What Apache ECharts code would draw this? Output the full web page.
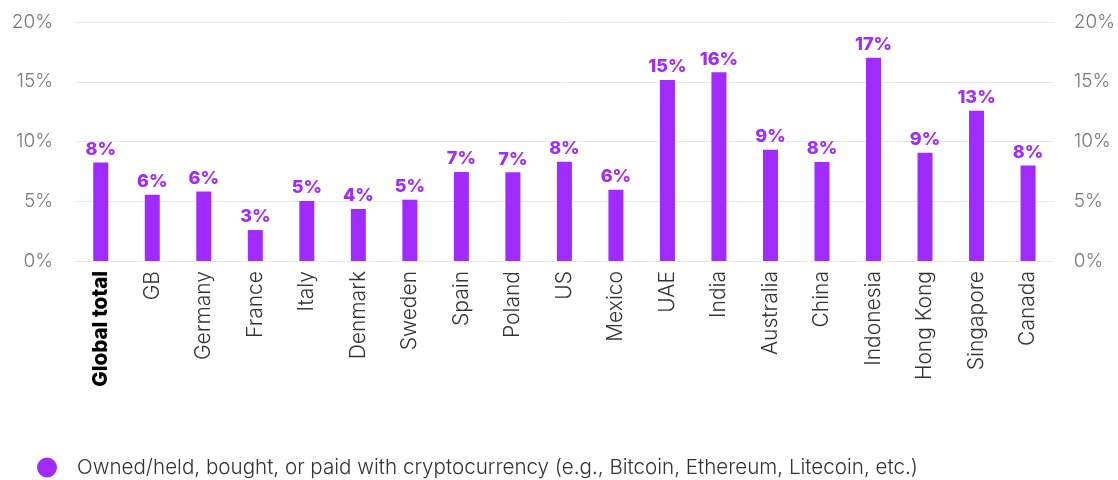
<!DOCTYPE html>
<html>
<head>
<meta charset="utf-8">
<script src="https://cdn.jsdelivr.net/npm/echarts@6/dist/echarts.min.js"></script>
<style>
  html, body { margin: 0; padding: 0; background: #fff; }
  #chart { width: 1118px; height: 480px; }
</style>
</head>
<body>
<div id="chart"></div>
<script>
// Share of respondents who used cryptocurrency, by market (%)
const categories = ['Global total', 'GB', 'Germany', 'France', 'Italy', 'Denmark', 'Sweden', 'Spain',
  'Poland', 'US', 'Mexico', 'UAE', 'India', 'Australia', 'China', 'Indonesia', 'Hong Kong', 'Singapore', 'Canada'];
const cryptoShare = [8.25, 5.55, 5.82, 2.59, 5.02, 4.35, 5.13, 7.45, 7.42, 8.31, 5.97, 15.15, 15.8, 9.31, 8.28, 17.0, 9.06, 12.58, 8.0];
const seriesName = 'Owned/held, bought, or paid with cryptocurrency (e.g., Bitcoin, Ethereum, Litecoin, etc.)';
const yMin = 0, yMax = 20, yStep = 5;

const PURPLE = '#A12BFF';
const FONT = 'Inter, "Noto Sans", sans-serif';

const valueAxis = (pos) => ({
  type: 'value',
  position: pos,
  min: yMin, max: yMax, interval: yStep,
  axisLine: { show: false },
  axisTick: { show: false },
  splitLine: { show: pos === 'left', lineStyle: { color: '#e8e8e8', width: 1 } },
  axisLabel: {
    formatter: '{value}%',
    color: '#777',
    fontFamily: FONT,
    fontWeight: 300,
    fontSize: 19,
    margin: pos === 'left' ? 22 : 20
  }
});

const chart = echarts.init(document.getElementById('chart'), null, { renderer: 'canvas' });
chart.setOption({
  animation: false,
  grid: { left: 75, right: 61, top: 22, bottom: 219, containLabel: false },
  legend: {
    left: 32, top: 452,
    icon: 'circle',
    itemWidth: 20, itemHeight: 20,
    itemGap: 10,
    textStyle: { color: '#333', fontFamily: FONT, fontWeight: 300, fontSize: 20.6, padding: [0, 0, 0, 15] },
    data: [seriesName]
  },
  xAxis: {
    type: 'category',
    data: categories,
    axisLine: { show: true, lineStyle: { color: '#e8e8e8' } },
    axisTick: { show: false },
    axisLabel: {
      interval: 0,
      rotate: 90,
      margin: 10,
      color: '#333',
      fontFamily: FONT,
      fontWeight: 300,
      fontSize: 21,
      formatter: (v, i) => i === 0 ? '{b|' + v + '}' : v,
      rich: { b: { fontWeight: 800, color: '#000', fontFamily: FONT, fontSize: 20.5 } }
    }
  },
  yAxis: [valueAxis('left'), valueAxis('right')],
  series: [{
    name: seriesName,
    type: 'bar',
    data: cryptoShare,
    barWidth: 15,
    itemStyle: { color: PURPLE },
    label: {
      show: true,
      position: 'top',
      distance: 4,
      color: PURPLE,
      fontFamily: FONT,
      fontWeight: 800,
      fontSize: 18,
      formatter: (p) => Math.round(p.value) + '%'
    }
  }]
});
</script>
</body>
</html>
